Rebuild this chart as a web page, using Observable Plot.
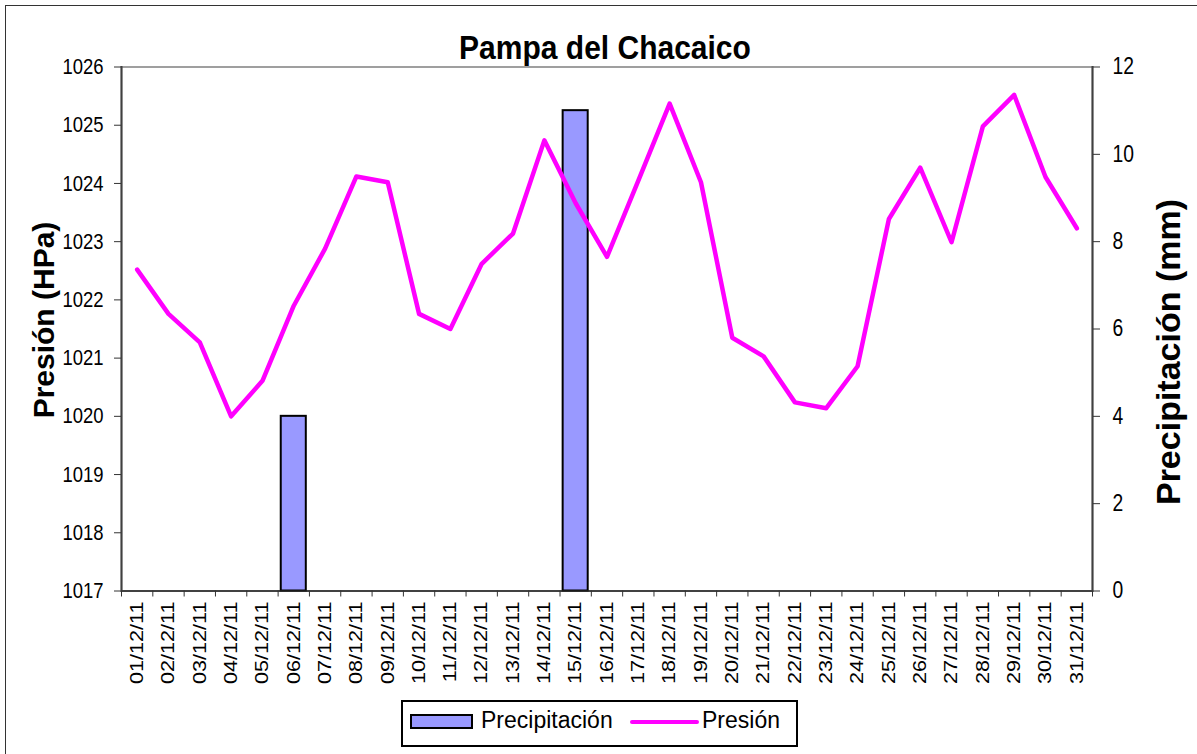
<!DOCTYPE html>
<html>
<head>
<meta charset="utf-8">
<script src="https://cdn.jsdelivr.net/npm/d3@7"></script>
<script src="https://cdn.jsdelivr.net/npm/@observablehq/plot@0.6"></script>
<style>
html, body { margin: 0; padding: 0; background: #fff; overflow: hidden; }
#wrap { position: relative; width: 1197px; height: 754px; font-family: "Liberation Sans", Arial, sans-serif; }
#border { position: absolute; left: 5px; top: 5px; width: 1300px; height: 900px; border: 1.5px solid #333; }
#chart { position: absolute; left: 0; top: 0; }
.t { position: absolute; white-space: nowrap; line-height: 1; color: #000; }
#title { font-weight: bold; font-size: 30px; left: 605px; top: 33.6px; transform: translate(-50%, 0) scaleY(1.1); transform-origin: 50% 25.4px; }
#ylab { font-weight: bold; font-size: 30px; left: 44px; top: 320px; transform: translate(-50%, -50%) rotate(-90deg); }
#y2lab { font-weight: bold; font-size: 34px; left: 1168px; top: 351.5px; transform: translate(-50%, -50%) rotate(-90deg); }
#legend { position: absolute; left: 401px; top: 700px; width: 397px; height: 47px; box-sizing: border-box; border: 2px solid #000; background: #fff; }
#legend .sw { position: absolute; left: 7px; top: 12px; width: 63px; height: 15px; box-sizing: border-box; border: 2px solid #000; background: #9999FF; }
#legend .ln { position: absolute; left: 227px; top: 17.75px; width: 69px; height: 4.5px; background: #FF00FF; border-radius: 3px; }
#legend .lt { position: absolute; font-size: 23px; line-height: 1; top: 6.8px; white-space: nowrap; }
</style>
</head>
<body>
<div id="wrap">
  <div id="border"></div>
  <div id="chart"></div>
  <div class="t" id="title">Pampa del Chacaico</div>
  <div class="t" id="ylab">Presión (HPa)</div>
  <div class="t" id="y2lab">Precipitación (mm)</div>
  <div id="legend">
    <div class="sw"></div>
    <div class="lt" style="left:78px">Precipitación</div>
    <div class="ln"></div>
    <div class="lt" style="left:299px">Presión</div>
  </div>
</div>
<script>
// ---- data ----
const fechas = [
  "01/12/11","02/12/11","03/12/11","04/12/11","05/12/11","06/12/11","07/12/11","08/12/11",
  "09/12/11","10/12/11","11/12/11","12/12/11","13/12/11","14/12/11","15/12/11","16/12/11",
  "17/12/11","18/12/11","19/12/11","20/12/11","21/12/11","22/12/11","23/12/11","24/12/11",
  "25/12/11","26/12/11","27/12/11","28/12/11","29/12/11","30/12/11","31/12/11"
];
const presion = [
  1022.52, 1021.76, 1021.27, 1020.00, 1020.61, 1021.90, 1022.88, 1024.12,
  1024.02, 1021.76, 1021.50, 1022.62, 1023.14, 1024.74, 1023.66, 1022.74,
  1024.05, 1025.37, 1024.02, 1021.35, 1021.03, 1020.24, 1020.14, 1020.86,
  1023.39, 1024.27, 1022.99, 1024.98, 1025.52, 1024.11, 1023.23
];
const precipitacion = [
  0, 0, 0, 0, 0, 4, 0, 0,
  0, 0, 0, 0, 0, 0, 11, 0,
  0, 0, 0, 0, 0, 0, 0, 0,
  0, 0, 0, 0, 0, 0, 0
];
const presionTicks = [1017, 1018, 1019, 1020, 1021, 1022, 1023, 1024, 1025, 1026];
const precipTicks = [0, 2, 4, 6, 8, 10, 12];

// ---- layout ----
const W = 1197, H = 754, ML = 121, MR = 105, MT = 66.5, MB = 163.5;
const step = (W - ML - MR) / fechas.length;

const data = fechas.map((f, i) => ({fecha: f, presion: presion[i], precip: precipitacion[i]}));
const y0 = presionTicks[0];
const k = (presionTicks[presionTicks.length - 1] - y0) / (precipTicks[precipTicks.length - 1] - precipTicks[0]);
const toY = p => y0 + (p - precipTicks[0]) * k;

const chart = Plot.plot({
  width: W, height: H,
  marginLeft: ML, marginRight: MR, marginTop: MT, marginBottom: MB,
  style: {fontFamily: '"Liberation Sans", Arial, sans-serif', background: "transparent", color: "#000", overflow: "visible"},
  x: {type: "band", domain: fechas, paddingInner: 0.2, paddingOuter: 0.1, round: false, axis: null},
  y: {domain: [presionTicks[0], presionTicks[presionTicks.length - 1]], axis: null},
  marks: [
    Plot.frame({stroke: "#808080", strokeWidth: 1.5}),
    Plot.barY(data.filter(d => d.precip > 0), {x: "fecha", y1: toY(0), y2: d => toY(d.precip), fill: "#9999FF", stroke: "#000", strokeWidth: 2}),
    Plot.line(data, {x: "fecha", y: "presion", stroke: "#FF00FF", strokeWidth: 4.5, strokeLinejoin: "round", strokeLinecap: "round"}),
    Plot.ruleY([presionTicks[0]], {stroke: "#222", strokeWidth: 1.5}),
    Plot.frame({anchor: "left", stroke: "#404040", strokeWidth: 2}),
    Plot.frame({anchor: "right", stroke: "#404040", strokeWidth: 2}),
    Plot.axisY(presionTicks, {anchor: "left", tickSize: 7, tickPadding: 11, fontSize: 22, label: null, tickFormat: d => String(d), stroke: "#333"}),
    Plot.axisY(precipTicks.map(toY), {anchor: "right", tickSize: 7, tickPadding: 13, fontSize: 23, label: null, tickFormat: v => String(Math.round((v - y0) / k)), stroke: "#333"}),
    Plot.axisX({tickSize: 6, tickFormat: () => "", dx: -step / 2, label: null, stroke: "#333"}),
    Plot.axisX([fechas[fechas.length - 1]], {tickSize: 6, tickFormat: () => "", dx: step / 2, label: null, stroke: "#333"}),
    Plot.axisX({tickSize: 0, tickPadding: 10.5, tickRotate: -90, fontSize: 18, label: null})
  ]
});

function squeeze(sel, sx, sy) {
  chart.querySelectorAll(sel).forEach(t => {
    const tr = t.getAttribute("transform");
    if (tr) {
      t.setAttribute("transform", tr + ` scale(${sx},${sy})`);
    } else {
      const x = +(t.getAttribute("x") || 0), y = +(t.getAttribute("y") || 0);
      t.removeAttribute("x"); t.removeAttribute("y");
      t.setAttribute("transform", `translate(${x},${y}) scale(${sx},${sy})`);
    }
  });
}
squeeze('g[aria-label="y-axis tick label"] text', 0.84, 1);
squeeze('g[aria-label="x-axis tick label"] text', 1.2, 1);

document.getElementById("chart").appendChild(chart);
</script>
</body>
</html>
